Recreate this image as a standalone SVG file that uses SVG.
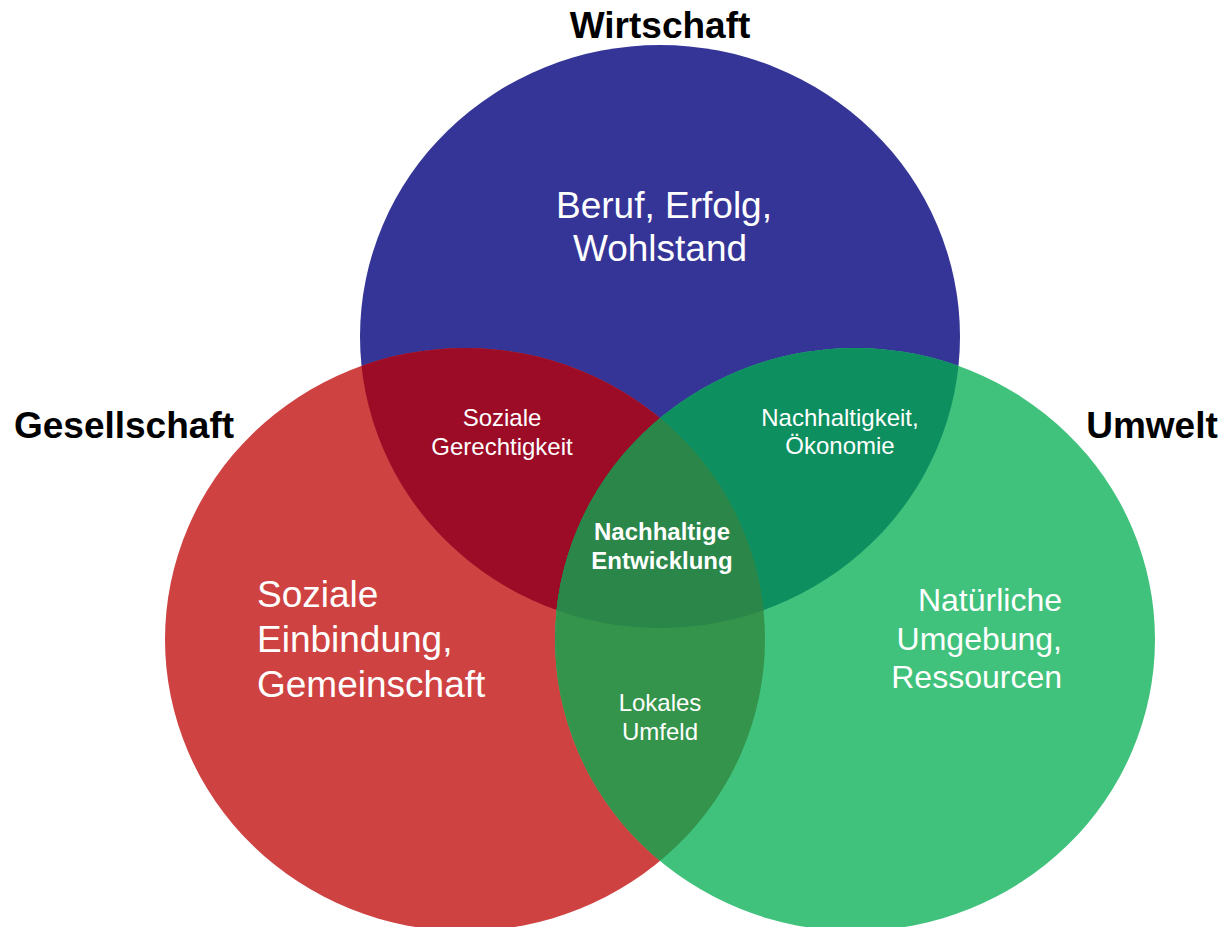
<svg xmlns="http://www.w3.org/2000/svg" width="1226" height="927" viewBox="0 0 1226 927">
  <defs>
    <style>
      .t { font-family: "Liberation Sans", Arial, sans-serif; fill: #ffffff; }
      .title { font-family: "Liberation Sans", Arial, sans-serif; font-weight: bold; font-size: 37px; fill: #000000; }
      .big { font-size: 37px; }
      .mid { font-size: 32px; }
      .small { font-size: 24px; }
      .core { font-size: 24px; font-weight: bold; }
    </style>
    <clipPath id="cBlue"><ellipse cx="660" cy="336.5" rx="300" ry="291.5"/></clipPath>
    <clipPath id="cRed"><ellipse cx="465" cy="639.5" rx="300" ry="291.5"/></clipPath>
    <clipPath id="cGreen"><ellipse cx="855" cy="639.5" rx="300" ry="291.5"/></clipPath>
  </defs>
  <rect width="1226" height="927" fill="#ffffff"/>

  <g id="circle-wirtschaft">
    <ellipse cx="660" cy="336.5" rx="300" ry="291.5" fill="#353597"/>
  </g>
  <g id="circle-gesellschaft">
    <ellipse cx="465" cy="639.5" rx="300" ry="291.5" fill="#CF4242"/>
  </g>
  <g id="circle-umwelt">
    <ellipse cx="855" cy="639.5" rx="300" ry="291.5" fill="#41C27C"/>
  </g>
  <g id="overlap-red-blue" clip-path="url(#cBlue)">
    <ellipse cx="465" cy="639.5" rx="300" ry="291.5" fill="#9C0C27"/>
  </g>
  <g id="overlap-blue-green" clip-path="url(#cBlue)">
    <ellipse cx="855" cy="639.5" rx="300" ry="291.5" fill="#0D8F60"/>
  </g>
  <g id="overlap-red-green" clip-path="url(#cRed)">
    <ellipse cx="855" cy="639.5" rx="300" ry="291.5" fill="#34944C"/>
  </g>
  <g id="overlap-center" clip-path="url(#cRed)">
    <g clip-path="url(#cGreen)">
      <ellipse cx="660" cy="336.5" rx="300" ry="291.5" fill="#2A8649"/>
    </g>
  </g>

  <g id="connectors"></g>

  <g id="labels">
    <text class="title" x="660" y="38" text-anchor="middle">Wirtschaft</text>
    <text class="title" x="124" y="438" text-anchor="middle">Gesellschaft</text>
    <text class="title" x="1152" y="438" text-anchor="middle">Umwelt</text>

    <text class="t big" x="664" y="218" text-anchor="middle">Beruf, Erfolg,</text>
    <text class="t big" x="660" y="261" text-anchor="middle">Wohlstand</text>

    <text class="t big" x="257" y="607">Soziale</text>
    <text class="t big" x="257" y="652">Einbindung,</text>
    <text class="t big" x="257" y="697">Gemeinschaft</text>

    <text class="t mid" x="1062" y="611" text-anchor="end">Natürliche</text>
    <text class="t mid" x="1062" y="650" text-anchor="end">Umgebung,</text>
    <text class="t mid" x="1062" y="688" text-anchor="end">Ressourcen</text>

    <text class="t small" x="502" y="426" text-anchor="middle">Soziale</text>
    <text class="t small" x="502" y="455" text-anchor="middle">Gerechtigkeit</text>

    <text class="t small" x="840" y="426" text-anchor="middle">Nachhaltigkeit,</text>
    <text class="t small" x="840" y="454" text-anchor="middle">Ökonomie</text>

    <text class="t core" x="662" y="540" text-anchor="middle">Nachhaltige</text>
    <text class="t core" x="662" y="569" text-anchor="middle">Entwicklung</text>

    <text class="t small" x="660" y="711" text-anchor="middle">Lokales</text>
    <text class="t small" x="660" y="740" text-anchor="middle">Umfeld</text>
  </g>
</svg>
